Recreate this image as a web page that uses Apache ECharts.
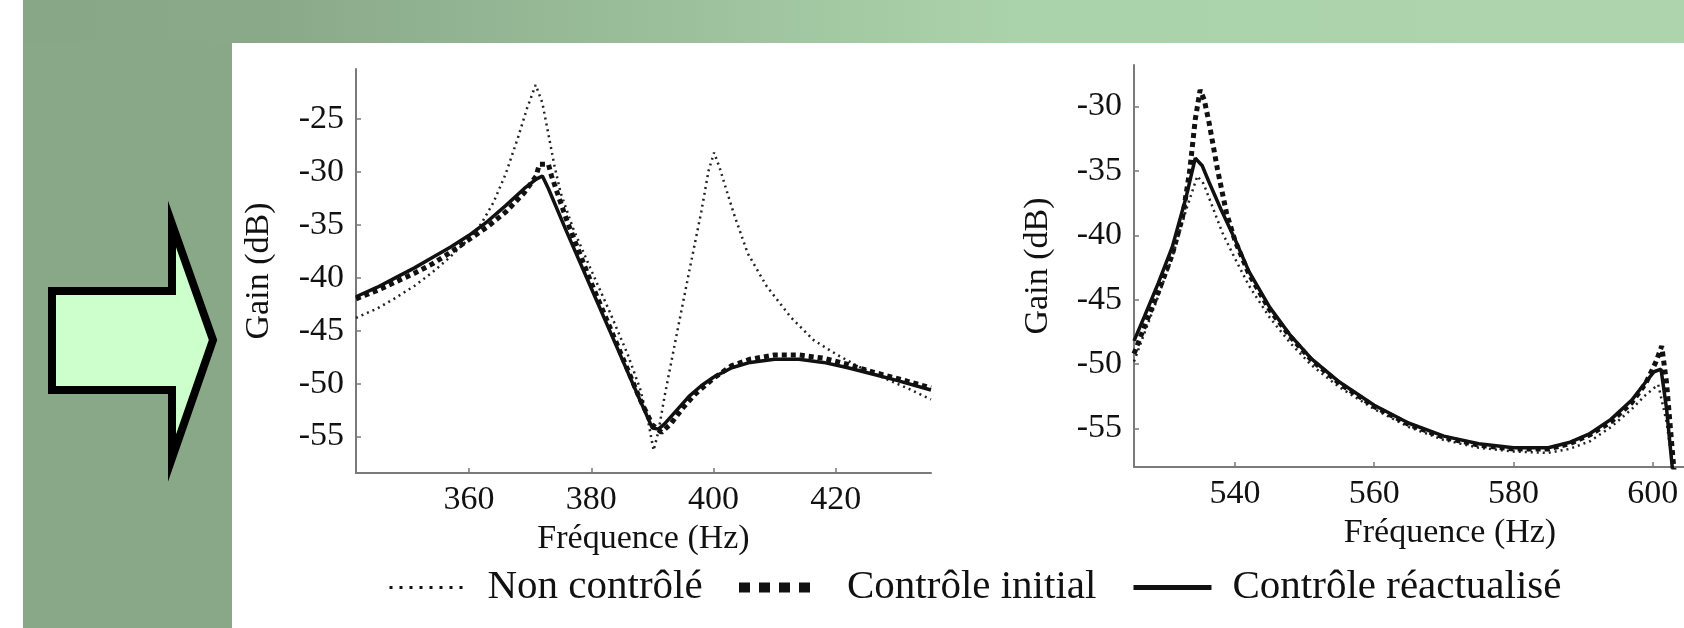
<!DOCTYPE html>
<html>
<head>
<meta charset="utf-8">
<script src="https://cdn.jsdelivr.net/npm/echarts@6/dist/echarts.min.js"></script>
<style>
html, body { margin: 0; padding: 0; background: #fff; }
#chart { width: 1684px; height: 628px; }
</style>
</head>
<body>
<div id="chart"></div>
<script>
// series names (legend)
var names = ['Non contrôlé', 'Contrôle initial', 'Contrôle réactualisé'];

// left plot : [frequency (Hz), gain (dB)]
var leftUncontrolled = [
    [341.5, -43.8], [345, -42.9], [348, -41.9], [351, -40.8], [354, -39.5], [357, -38.0],
    [360, -36.3], [362, -34.9], [364, -32.9], [366, -30.2], [368, -26.8], [369.5, -24.0],
    [370.9, -21.8], [372, -23.5], [373, -26.5], [374, -29.5], [375, -32.0], [377, -35.3],
    [380, -39.3], [383, -43.2], [386, -47.3], [388, -50.5], [389.3, -53.5], [390.2, -56.3],
    [391, -54.5], [392, -51.2], [394, -45.3], [396, -39.5], [398, -33.8], [399.2, -29.9],
    [400.1, -28.2], [401, -29.6], [402, -31.5], [403.3, -33.9], [405.6, -37.7], [408.7, -40.8],
    [412.6, -43.7], [416.4, -45.9], [420.3, -47.3], [424.1, -48.5], [428, -49.5], [432, -50.5],
    [435.6, -51.5]
];
var leftInitial = [
    [341.5, -42.0], [345, -41.2], [348, -40.4], [351, -39.6], [354, -38.7], [357, -37.6],
    [360, -36.4], [363, -35.2], [366, -33.8], [369, -32.0], [371, -30.4], [371.5, -29.3],
    [373, -29.3], [373.5, -30.4], [376, -34.6], [380, -40.5], [384, -46.0], [388, -51.5],
    [390, -53.9], [391.5, -54.6], [393, -53.8], [395, -52.3], [397, -51.0], [400, -49.5],
    [403, -48.3], [406, -47.7], [410, -47.3], [414, -47.3], [418, -47.6], [422, -48.2],
    [426, -48.9], [430, -49.5], [435.6, -50.4]
];
var leftUpdated = [
    [341.5, -41.8], [345, -40.9], [348, -40.0], [351, -39.1], [354, -38.1], [357, -37.1],
    [360, -36.0], [363, -34.7], [366, -33.2], [369, -31.6], [371, -30.7], [372, -30.4],
    [373, -31.6], [376, -35.7], [380, -41.0], [384, -46.3], [388, -51.6], [390, -54.2],
    [391, -54.3], [392, -53.8], [394, -52.5], [396, -51.2], [398, -50.2], [400, -49.4],
    [403, -48.5], [406, -48.0], [410, -47.7], [414, -47.7], [418, -48.0], [422, -48.5],
    [426, -49.1], [430, -49.7], [435.6, -50.6]
];

// right plot : [frequency (Hz), gain (dB)]
var rightUncontrolled = [
    [525.5, -49.8], [527, -47.6], [529, -44.7], [531, -41.7], [533, -38.0], [534.6, -35.4],
    [535.5, -36.0], [536.5, -37.4], [538.2, -39.8], [540, -41.8], [542, -43.9], [545, -46.4],
    [548, -48.4], [551, -50.1], [555, -51.8], [560, -53.5], [565, -54.9], [570, -55.9],
    [575, -56.5], [580, -56.8], [585, -56.9], [588, -56.6], [591, -56.0], [594, -54.9],
    [597, -53.5], [599, -52.4], [600.8, -51.6], [602, -54.5], [603, -58.5]
];
var rightInitial = [
    [525.5, -49.2], [527, -47.1], [529, -44.4], [531, -41.5], [532.5, -38.5], [533.5, -35.0],
    [534.3, -31.0], [535.0, -28.7], [535.6, -29.5], [536.3, -31.3], [537.5, -34.9], [538.8, -38.3],
    [540, -40.4], [542, -43.0], [545, -45.8], [548, -47.9], [551, -49.7], [555, -51.5],
    [560, -53.3], [565, -54.7], [570, -55.7], [575, -56.3], [580, -56.6], [585, -56.6],
    [588, -56.2], [591, -55.5], [594, -54.5], [597, -53.0], [599, -51.5], [600.5, -49.8],
    [601.3, -48.6], [602, -51.5], [603.1, -58.5]
];
var rightUpdated = [
    [525.5, -48.2], [527, -46.3], [529, -43.7], [531, -40.9], [533, -37.0], [534.3, -34.0],
    [535.3, -34.6], [536.3, -35.9], [538, -38.0], [540, -40.3], [542, -42.8], [545, -45.6],
    [548, -47.8], [551, -49.6], [555, -51.4], [560, -53.2], [565, -54.6], [570, -55.6],
    [575, -56.2], [580, -56.5], [585, -56.5], [588, -56.1], [591, -55.4], [594, -54.3],
    [597, -52.8], [599, -51.4], [600.2, -50.6], [601.2, -50.4], [602, -53.5], [602.9, -58.5]
];

const myChart = echarts.init(document.getElementById('chart'));
var serif = 'Liberation Serif';
var axisGrey = '#7a7a7a';

function xAxisFor(grid, min, max, gap, shift) {
    return {
        type: 'value', gridIndex: grid, min: min, max: max,
        minInterval: 20, maxInterval: 20,
        name: 'Fréquence (Hz)', nameLocation: 'middle', nameGap: gap,
        nameTextStyle: { fontFamily: serif, fontSize: 34, color: '#111', padding: [0, 0, 0, shift] },
        axisLine: { lineStyle: { color: axisGrey, width: 2 } },
        axisTick: { inside: true, length: 5, lineStyle: { color: axisGrey, width: 1.5 } },
        axisLabel: {
            fontFamily: serif, fontSize: 34, color: '#111', margin: 10,
            showMinLabel: false, showMaxLabel: false,
            formatter: function (v) { return v % 20 === 0 ? String(v) : ''; }
        },
        splitLine: { show: false }
    };
}

function yAxisFor(grid, min, max, gap) {
    return {
        type: 'value', gridIndex: grid, min: min, max: max,
        minInterval: 5, maxInterval: 5,
        name: 'Gain (dB)', nameLocation: 'middle', nameGap: gap, nameRotate: 90,
        nameTextStyle: { fontFamily: serif, fontSize: 34, color: '#111' },
        axisLine: { show: true, lineStyle: { color: axisGrey, width: 2 } },
        axisTick: { show: true, inside: true, length: 5, lineStyle: { color: axisGrey, width: 1.5 } },
        axisLabel: {
            fontFamily: serif, fontSize: 34, color: '#111', margin: 12,
            showMinLabel: false, showMaxLabel: false,
            formatter: function (v) { return v % 5 === 0 ? String(v) : ''; }
        },
        splitLine: { show: false }
    };
}

function lineSeries(name, grid, data) {
    var styles = {
        'Non contrôlé': { color: '#222', width: 2.5, type: [2, 4] },
        'Contrôle initial': { color: '#111', width: 5, type: [5, 4] },
        'Contrôle réactualisé': { color: '#111', width: 3.5, type: 'solid' }
    };
    return {
        name: name, type: 'line', xAxisIndex: grid, yAxisIndex: grid,
        data: data, symbol: 'none', smooth: false,
        lineStyle: styles[name], itemStyle: { color: styles[name].color },
        emphasis: { disabled: true }
    };
}

// legend samples are drawn bigger than the curves, like in the slide
function legendFor(name, left, width, pad, sample) {
    return {
        data: [name], left: left, top: 562, itemWidth: width, itemHeight: 14,
        selectedMode: false,
        itemStyle: { opacity: 0 },
        lineStyle: sample,
        textStyle: { fontFamily: serif, fontSize: 41, color: '#111', padding: [0, 0, 0, pad] }
    };
}

const option = {
    animation: false,
    backgroundColor: '#fff',
    graphic: [
        { type: 'rect', shape: { x: 23, y: 0, width: 209, height: 628 }, style: { fill: '#89a888' }, z: -10 },
        {
            type: 'rect', shape: { x: 23, y: 0, width: 1661, height: 43 }, z: -10,
            style: {
                fill: new echarts.graphic.LinearGradient(0, 0, 1, 0, [
                    { offset: 0, color: '#88a787' },
                    { offset: 0.15, color: '#8aa989' },
                    { offset: 0.6, color: '#abd3ab' },
                    { offset: 1, color: '#add4ad' }
                ])
            }
        },
        {
            type: 'polygon', z: -5,
            shape: { points: [[52, 291], [172, 291], [172, 224], [213, 340], [172, 458], [172, 390], [52, 390]] },
            style: { fill: '#ccffcc', stroke: '#000', lineWidth: 8, lineJoin: 'miter' }
        }
    ],
    legend: [
        legendFor(names[0], 383, 78, 15, { width: 3, type: [3, 7], color: '#111' }),
        legendFor(names[1], 729, 73, 30, { width: 10, type: [11, 9], color: '#111' }),
        legendFor(names[2], 1126, 78, 16, { width: 5, type: 'solid', color: '#111' })
    ],
    grid: [
        { left: 356, top: 69, width: 575, height: 404 },
        { left: 1134, top: 65, right: 0, height: 402 }
    ],
    xAxis: [
        xAxisFor(0, 341.5, 435.6, 28, 0),
        xAxisFor(1, 525.5, 604.5, 34, 82)
    ],
    yAxis: [
        yAxisFor(0, -58.44, -20.3, 80),
        yAxisFor(1, -58, -26.77, 79)
    ],
    series: [
        lineSeries(names[0], 0, leftUncontrolled),
        lineSeries(names[1], 0, leftInitial),
        lineSeries(names[2], 0, leftUpdated),
        lineSeries(names[0], 1, rightUncontrolled),
        lineSeries(names[1], 1, rightInitial),
        lineSeries(names[2], 1, rightUpdated)
    ]
};
myChart.setOption(option);
</script>
</body>
</html>
